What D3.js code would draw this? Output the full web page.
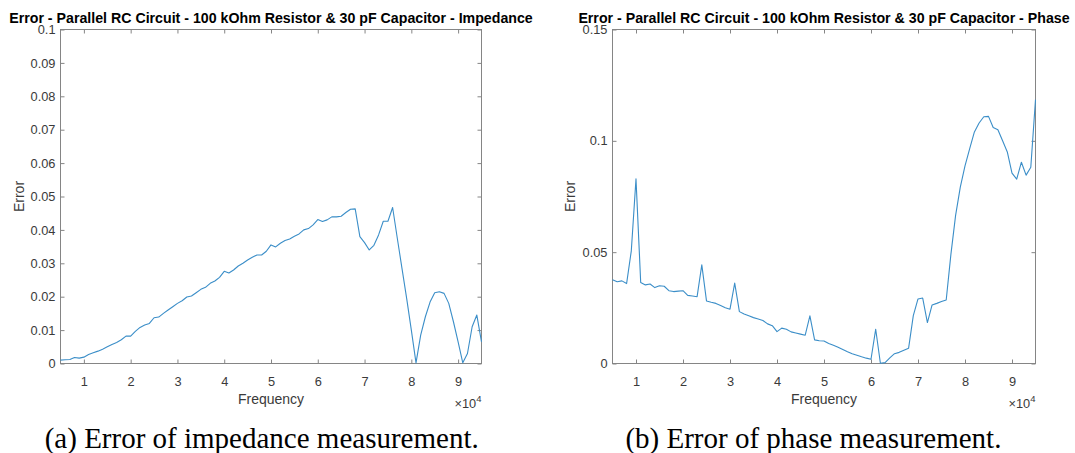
<!DOCTYPE html>
<html>
<head>
<meta charset="utf-8">
<script src="https://cdn.jsdelivr.net/npm/d3@7"></script>
<style>
  html, body { margin: 0; padding: 0; background: #fff; }
  svg { display: block; }
</style>
</head>
<body>
<div id="chart"></div>
<script>
'use strict';

// frequency points (Hz)
var frequency = [
  5000, 6000, 7000, 8000, 9000, 10000, 11000, 12000, 13000, 14000,
  15000, 16000, 17000, 18000, 19000, 20000, 21000, 22000, 23000, 24000,
  25000, 26000, 27000, 28000, 29000, 30000, 31000, 32000, 33000, 34000,
  35000, 36000, 37000, 38000, 39000, 40000, 41000, 42000, 43000, 44000,
  45000, 46000, 47000, 48000, 49000, 50000, 51000, 52000, 53000, 54000,
  55000, 56000, 57000, 58000, 59000, 60000, 61000, 62000, 63000, 64000,
  65000, 66000, 67000, 68000, 69000, 70000, 71000, 72000, 73000, 74000,
  75000, 76000, 77000, 78000, 79000, 80000, 81000, 82000, 83000, 84000,
  85000, 86000, 87000, 88000, 89000, 90000, 91000, 92000, 93000, 94000,
  95000
];

var impedanceError = [
  0.0010, 0.0011, 0.0012, 0.0018, 0.0016, 0.0019, 0.0027, 0.0032, 0.0037, 0.0043,
  0.0050, 0.0057, 0.0063, 0.0071, 0.0082, 0.0082, 0.0096, 0.0108, 0.0115, 0.0120,
  0.0137, 0.0139, 0.0150, 0.0160, 0.0170, 0.0180, 0.0188, 0.0199, 0.0202, 0.0212,
  0.0222, 0.0228, 0.0240, 0.0247, 0.0258, 0.0276, 0.0271, 0.0280, 0.0292, 0.0300,
  0.0310, 0.0318, 0.0325, 0.0325, 0.0336, 0.0355, 0.0349, 0.0360, 0.0368, 0.0373,
  0.0381, 0.0388, 0.0400, 0.0404, 0.0415, 0.0431, 0.0425, 0.0430, 0.0439, 0.0439,
  0.0441, 0.0452, 0.0462, 0.0463, 0.0380, 0.0362, 0.0340, 0.0354, 0.0385, 0.0426,
  0.0426, 0.0467, 0.0375, 0.0285, 0.0195, 0.0100, 0.0002, 0.0085, 0.0140, 0.0184,
  0.0212, 0.0215, 0.0210, 0.0180, 0.0125, 0.0065, 0.0002, 0.0030, 0.0110, 0.0145,
  0.0065
];

var phaseError = [
  0.0376, 0.0367, 0.0371, 0.0359, 0.0506, 0.0829, 0.0364, 0.0353, 0.0357, 0.0341,
  0.0349, 0.0347, 0.0327, 0.0323, 0.0325, 0.0327, 0.0306, 0.0303, 0.0300, 0.0443,
  0.0281, 0.0275, 0.0270, 0.0260, 0.0250, 0.0244, 0.0361, 0.0233, 0.0222, 0.0214,
  0.0206, 0.0200, 0.0193, 0.0178, 0.0170, 0.0143, 0.0159, 0.0154, 0.0142, 0.0137,
  0.0132, 0.0127, 0.0214, 0.0106, 0.0102, 0.0101, 0.0090, 0.0082, 0.0073, 0.0063,
  0.0053, 0.0044, 0.0037, 0.0030, 0.0024, 0.0019, 0.0154, 0.0001, 0.0004, 0.0025,
  0.0044, 0.0050, 0.0060, 0.0069, 0.0215, 0.0290, 0.0294, 0.0184, 0.0263, 0.0270,
  0.0278, 0.0285, 0.0490, 0.0665, 0.0792, 0.0888, 0.0965, 0.1040, 0.1080, 0.1108,
  0.1110, 0.1060, 0.1050, 0.1000, 0.0950, 0.0855, 0.0828, 0.0904, 0.0846, 0.0881,
  0.1185
];

var xTicks = [10000, 20000, 30000, 40000, 50000, 60000, 70000, 80000, 90000];
var xTickLabels = ['1', '2', '3', '4', '5', '6', '7', '8', '9'];

var impedanceTicks = [0, 0.01, 0.02, 0.03, 0.04, 0.05, 0.06, 0.07, 0.08, 0.09, 0.1];
var impedanceTickLabels = ['0', '0.01', '0.02', '0.03', '0.04', '0.05', '0.06', '0.07', '0.08', '0.09', '0.1'];
var phaseTicks = [0, 0.05, 0.1, 0.15];
var phaseTickLabels = ['0', '0.05', '0.1', '0.15'];

var width = 1075;
var height = 453;
var sans = '"Liberation Sans", Arial, Helvetica, sans-serif';
var serif = '"Liberation Serif", "Times New Roman", Times, serif';
var lineColor = '#3b8ec8';
var boxColor = '#858585';
var textColor = '#3a3a3a';

var svg = d3.select('#chart')
  .append('svg')
  .attr('width', width)
  .attr('height', height);

function drawPanel(p) {
  var x = d3.scaleLinear().domain([5000, 95000]).range([p.left, p.right]);
  var y = d3.scaleLinear().domain(p.yDomain).range([p.bottom, p.top]);
  var g = svg.append('g');

  // inward ticks on all four sides (box on)
  var bottomAxis = d3.axisBottom(x).tickValues(xTicks).tickSize(-4).tickPadding(13.5)
    .tickFormat(function(d, i) { return xTickLabels[i]; });
  var topAxis = d3.axisTop(x).tickValues(xTicks).tickSize(-4).tickFormat('');
  var leftAxis = d3.axisLeft(y).tickValues(p.yTicks).tickSize(-4).tickPadding(5)
    .tickFormat(function(d, i) { return p.yTickLabels[i]; });
  var rightAxis = d3.axisRight(y).tickValues(p.yTicks).tickSize(-4).tickFormat('');

  [[bottomAxis, 'translate(0,' + p.bottom + ')'],
   [topAxis, 'translate(0,' + p.top + ')'],
   [leftAxis, 'translate(' + p.left + ',0)'],
   [rightAxis, 'translate(' + p.right + ',0)']].forEach(function(a) {
    var ax = g.append('g').attr('transform', a[1]).call(a[0]);
    ax.select('.domain').remove();
    ax.selectAll('line').attr('stroke', boxColor);
    ax.selectAll('text')
      .attr('fill', textColor)
      .style('font-family', sans)
      .style('font-size', '12.8px');
  });

  g.append('rect')
    .attr('x', p.left)
    .attr('y', p.top)
    .attr('width', p.right - p.left)
    .attr('height', p.bottom - p.top)
    .attr('fill', 'none')
    .attr('stroke', boxColor)
    .attr('stroke-width', 1);

  var line = d3.line()
    .x(function(d, i) { return x(frequency[i]); })
    .y(function(d) { return y(d); });

  g.append('path')
    .datum(p.values)
    .attr('d', line)
    .attr('fill', 'none')
    .attr('stroke', lineColor)
    .attr('stroke-width', 1.1)
    .attr('stroke-linejoin', 'round');

  var cx = (p.left + p.right) / 2;

  g.append('text')
    .attr('x', cx)
    .attr('y', 23)
    .attr('text-anchor', 'middle')
    .style('font-family', sans)
    .style('font-size', '14.2px')
    .style('font-weight', 'bold')
    .attr('fill', '#000')
    .text(p.title);

  g.append('text')
    .attr('x', cx)
    .attr('y', 403.5)
    .attr('text-anchor', 'middle')
    .style('font-family', sans)
    .style('font-size', '14px')
    .attr('fill', textColor)
    .text('Frequency');

  var exp = g.append('text')
    .attr('x', p.right)
    .attr('y', 408)
    .attr('text-anchor', 'end')
    .style('font-family', sans)
    .style('font-size', '12.8px')
    .attr('fill', textColor);
  exp.append('tspan').text('\u00d710');
  exp.append('tspan').attr('dy', -6).style('font-size', '9.5px').text('4');

  g.append('text')
    .attr('transform', 'translate(' + p.yLabelX + ',' + ((p.top + p.bottom) / 2) + ') rotate(-90)')
    .attr('text-anchor', 'middle')
    .style('font-family', sans)
    .style('font-size', '14px')
    .attr('fill', textColor)
    .text('Error');

  g.append('text')
    .attr('x', p.captionX)
    .attr('y', 448)
    .attr('text-anchor', 'middle')
    .style('font-family', serif)
    .style('font-size', '29px')
    .attr('fill', '#000')
    .text(p.caption);
}

drawPanel({
  left: 60.5, right: 481.5, top: 29.5, bottom: 363.5,
  yDomain: [0, 0.1],
  yTicks: impedanceTicks,
  yTickLabels: impedanceTickLabels,
  values: impedanceError,
  title: 'Error - Parallel RC Circuit - 100 kOhm Resistor & 30 pF Capacitor - Impedance',
  yLabelX: 23.5,
  captionX: 261.7,
  caption: '(a) Error of impedance measurement.'
});

drawPanel({
  left: 612.5, right: 1035.5, top: 29.5, bottom: 363.5,
  yDomain: [0, 0.15],
  yTicks: phaseTicks,
  yTickLabels: phaseTickLabels,
  values: phaseError,
  title: 'Error - Parallel RC Circuit - 100 kOhm Resistor & 30 pF Capacitor - Phase',
  yLabelX: 575,
  captionX: 813.4,
  caption: '(b) Error of phase measurement.'
});
</script>
</body>
</html>
